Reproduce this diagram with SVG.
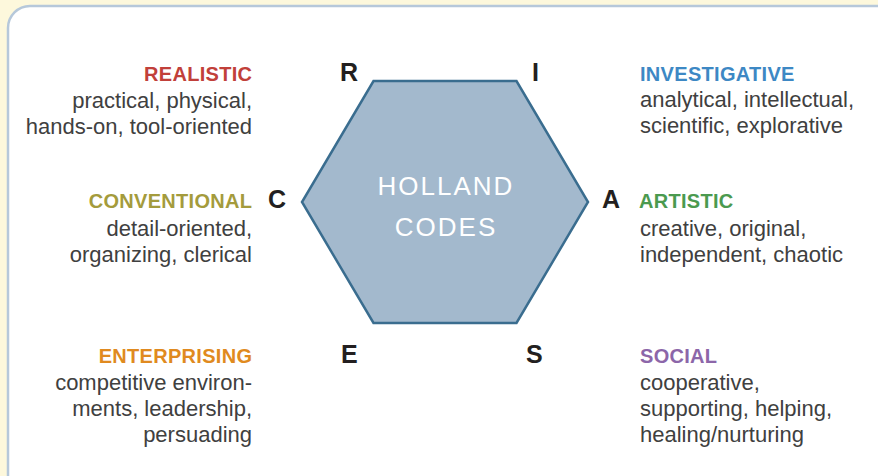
<svg xmlns="http://www.w3.org/2000/svg" width="878" height="476" viewBox="0 0 878 476">
<style>
.bg{fill:#fdf8dc}
.panel{fill:#ffffff;stroke:#b6c8da;stroke-width:2.5}
.hex{fill:#a3b9cd;stroke:#3a6d8f;stroke-width:2.5;stroke-linejoin:miter}
.title{font-family:"Liberation Sans",Arial,sans-serif;font-size:26px;fill:#ffffff;letter-spacing:2px}
.letter{font-family:"Liberation Sans",Arial,sans-serif;font-size:25px;font-weight:bold;fill:#231f20}
.head{font-family:"Liberation Sans",Arial,sans-serif;font-size:20px;font-weight:bold;letter-spacing:0.3px}
.body{font-family:"Liberation Sans",Arial,sans-serif;font-size:22px;fill:#404040}
.end{text-anchor:end}
</style>
<rect class="bg" x="0" y="0" width="878" height="476"/>
<rect class="panel" x="8" y="6" width="900" height="500" rx="22" ry="22"/>

<g id="hexagon">
<polygon class="hex" points="373.5,81 516.5,81 588,202 516.5,323 373.5,323 302,202"/>
<text class="title" x="446" y="195" text-anchor="middle">HOLLAND</text>
<text class="title" x="446" y="236" text-anchor="middle">CODES</text>
</g>

<g id="realistic">
<text class="letter" x="340" y="81">R</text>
<text class="head end" x="252.3" y="81" fill="#c1403a">REALISTIC</text>
<text class="body end" x="252" y="108">practical, physical,</text>
<text class="body end" x="252" y="134">hands-on, tool-oriented</text>
</g>

<g id="investigative">
<text class="letter" x="532" y="81">I</text>
<text class="head" x="640" y="81" fill="#3d88c4">INVESTIGATIVE</text>
<text class="body" x="640" y="107">analytical, intellectual,</text>
<text class="body" x="640" y="133">scientific, explorative</text>
</g>

<g id="conventional">
<text class="letter" x="268" y="208">C</text>
<text class="head end" x="252.3" y="208" fill="#a49b3c">CONVENTIONAL</text>
<text class="body end" x="252" y="236">detail-oriented,</text>
<text class="body end" x="252" y="262">organizing, clerical</text>
</g>

<g id="artistic">
<text class="letter" x="602" y="208">A</text>
<text class="head" x="639" y="208" fill="#4b9a4f">ARTISTIC</text>
<text class="body" x="640" y="236">creative, original,</text>
<text class="body" x="640" y="262">independent, chaotic</text>
</g>

<g id="enterprising">
<text class="letter" x="341" y="363">E</text>
<text class="head end" x="252.3" y="363" fill="#e08a20">ENTERPRISING</text>
<text class="body end" x="252" y="390">competitive environ-</text>
<text class="body end" x="252" y="416">ments, leadership,</text>
<text class="body end" x="252" y="442">persuading</text>
</g>

<g id="social">
<text class="letter" x="526" y="363">S</text>
<text class="head" x="640" y="363" fill="#8c66a9">SOCIAL</text>
<text class="body" x="640" y="390">cooperative,</text>
<text class="body" x="640" y="416">supporting, helping,</text>
<text class="body" x="640" y="442">healing/nurturing</text>
</g>
</svg>
